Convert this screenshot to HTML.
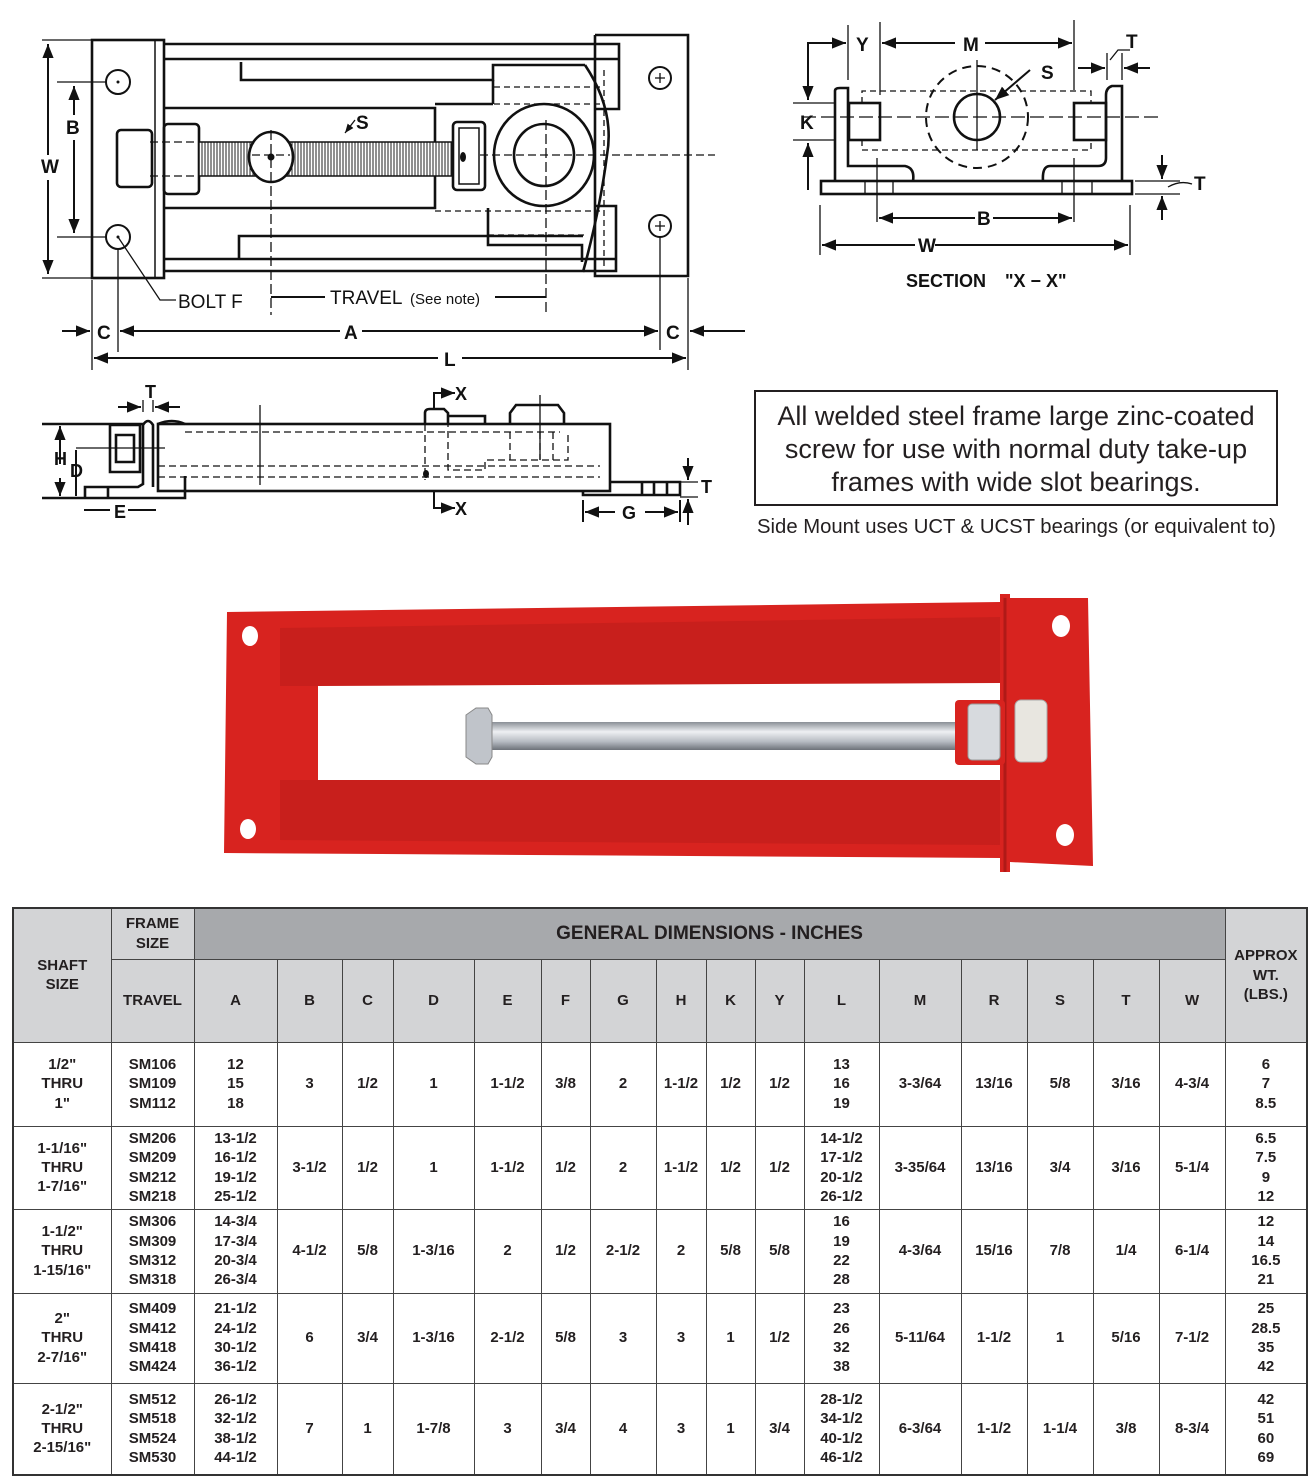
<!DOCTYPE html>
<html><head><meta charset="utf-8">
<style>
body{margin:0;background:#fff;width:1316px;height:1482px;position:relative;overflow:hidden;font-family:"Liberation Sans",Arial,sans-serif;}
svg{position:absolute;left:0;top:0}
.box{position:absolute;left:754px;top:390px;width:524px;height:116px;border:2.5px solid #231f20;font-size:27px;line-height:33px;text-align:center;color:#231f20;padding-top:8px;box-sizing:border-box;white-space:nowrap}
.sub{position:absolute;left:757px;top:516px;font-size:20.3px;color:#231f20;white-space:nowrap}
table{position:absolute;left:12px;top:907px;border-collapse:collapse;table-layout:fixed;width:1294px;border:2.5px solid #333;font-weight:bold;font-size:15px;color:#231f20}
td{border:1px solid #444;text-align:center;vertical-align:middle;padding:0;line-height:19.3px}
.h{background:#d3d4d6}
.g{background:#a7a9ac;font-size:19px}
</style></head><body>
<svg width="1316" height="880" viewBox="0 0 1316 880" font-family="Liberation Sans, Arial, sans-serif">
<defs>
<marker id="a" viewBox="0 0 10 10" refX="10" refY="5" markerWidth="7" markerHeight="7" orient="auto-start-reverse"><path d="M0,1 L10,5 L0,9z" fill="#111"/></marker>
<pattern id="th" width="3" height="10" patternUnits="userSpaceOnUse"><rect width="3" height="10" fill="#fff"/><line x1="1" y1="0" x2="1" y2="10" stroke="#222" stroke-width="1"/></pattern>
<linearGradient id="rod" x1="0" y1="0" x2="0" y2="1"><stop offset="0" stop-color="#8a8f96"/><stop offset=".35" stop-color="#eef0f3"/><stop offset=".7" stop-color="#b6bbc2"/><stop offset="1" stop-color="#6d7279"/></linearGradient>
</defs>
<g fill="none" stroke="#111" stroke-width="2.6">
<rect x="92" y="40" width="72" height="238"/>
<line x1="155" y1="40" x2="155" y2="278" stroke-width="1.5"/>
<polyline points="164,44 619,44 619,109 595,109"/>
<line x1="164" y1="59" x2="619" y2="59"/>
<polyline points="595,35 688,35 688,276 595,276 595,35"/>
<line x1="164" y1="259" x2="616" y2="259"/>
<polyline points="164,271 616,271 616,206 595,206"/>
<polyline points="241,62 241,80 493,80 493,65 585,65"/>
<path d="M585,65 Q615,110 607,155 Q600,210 583,272"/>
<polyline points="164,108 435,108 435,208 164,208"/>
<polyline points="435,104 493,104"/>
<line x1="493" y1="80" x2="493" y2="104"/>
<polyline points="239,259 239,236 583,236"/>
<polyline points="488,208 488,245 582,245 582,262"/>
<ellipse cx="544" cy="155" rx="50" ry="51"/>
<ellipse cx="544" cy="155" rx="30" ry="31"/>
<rect x="117" y="130" width="35" height="57" rx="4"/>
<rect x="164" y="124" width="35" height="70" rx="4"/>
<rect x="199" y="142" width="253" height="34" fill="url(#th)" stroke-width="1.5"/>
<ellipse cx="271" cy="157" rx="22" ry="25" fill="#fff"/>
<rect x="453" y="122" width="32" height="68" rx="4" fill="#fff"/>
<rect x="459" y="128" width="20" height="56" fill="#fff" stroke-width="1.5"/>
<circle cx="118" cy="82" r="12" stroke-width="2"/><circle cx="118" cy="237" r="12" stroke-width="2"/>
<circle cx="660" cy="78" r="11" stroke-width="2"/><circle cx="660" cy="226" r="11" stroke-width="2"/>
</g>
<g fill="#111"><circle cx="271" cy="157" r="3.5"/><ellipse cx="463" cy="157" rx="3" ry="5"/><circle cx="118" cy="82" r="1.5"/><circle cx="118" cy="237" r="1.5"/></g>
<g stroke="#111" stroke-width="1.3" fill="none">
<path d="M655,78h10M660,73v10M655,226h10M660,221v10"/>
<path d="M494,87H600M494,104H600M435,211H600M488,235H585" stroke-dasharray="6,4"/>
<path d="M150,142H200M150,176H200M480,155H715M252,155H290" stroke-dasharray="8,4"/>
<path d="M271,130V315M546,120V315" stroke-dasharray="10,4"/>
<path d="M604,70V270" stroke-dasharray="6,4"/>
<path d="M42,40H92M42,278H92M57,82H106M57,237H106"/>
<path d="M118,249V352M660,237V350M92,280V370M688,278V370"/>
<path d="M118,237L160,300H176"/>
<path d="M355,120L345,133" marker-end="url(#a)"/>
</g>
<g stroke="#111" stroke-width="2" fill="none">
<line x1="48" y1="44" x2="48" y2="155" marker-start="url(#a)"/><line x1="48" y1="180" x2="48" y2="274" marker-end="url(#a)"/>
<line x1="74" y1="86" x2="74" y2="115" marker-start="url(#a)"/><line x1="74" y1="140" x2="74" y2="233" marker-end="url(#a)"/>
<line x1="271" y1="297" x2="325" y2="297"/><line x1="495" y1="297" x2="546" y2="297"/>
<line x1="62" y1="331" x2="90" y2="331" marker-end="url(#a)"/><line x1="120" y1="331" x2="340" y2="331" marker-start="url(#a)"/><line x1="362" y1="331" x2="658" y2="331" marker-end="url(#a)"/><line x1="745" y1="331" x2="690" y2="331" marker-end="url(#a)"/>
<line x1="94" y1="358" x2="438" y2="358" marker-start="url(#a)"/><line x1="462" y1="358" x2="686" y2="358" marker-end="url(#a)"/>
</g>
<g font-size="19" fill="#111" font-weight="bold">
<text x="41" y="173">W</text><text x="66" y="134">B</text><text x="356" y="129">S</text>
<text x="178" y="308" font-weight="normal" font-size="19">BOLT F</text>
<text x="330" y="304" font-weight="normal">TRAVEL</text><text x="410" y="304" font-size="15" font-weight="normal">(See note)</text>
<text x="97" y="339">C</text><text x="344" y="339">A</text><text x="666" y="339">C</text><text x="444" y="366">L</text>
</g>
<g fill="none" stroke="#111" stroke-width="2.6">
<rect x="821" y="181" width="311" height="13"/>
<path d="M835,181V91Q835,88 840,88H848V166H905Q915,168 913,181"/>
<path d="M1122,181V86H1112Q1106,88 1106,95V158Q1106,166 1098,166H1050Q1042,166 1043,181"/>
<rect x="849" y="103" width="31" height="37"/><rect x="1074" y="103" width="32" height="37"/>
<circle cx="977" cy="117" r="23"/>
<circle cx="977" cy="117" r="51" stroke-dasharray="9,6" stroke-width="2"/>
</g>
<g stroke="#111" stroke-width="1.3" fill="none">
<path d="M862,103V91H1091V103M862,140V150H1091V140" stroke-dasharray="6,4"/>
<path d="M802,117H1160" stroke-dasharray="14,5"/>
<path d="M977,60V150"/>
<path d="M865,181V194M893,181V194M1062,181V194M1092,181V194"/>
<path d="M848,25V80M880,22V95M1074,20V90M1107,53V80M1122,53V80M793,103H835M793,140H835M1135,181H1180M1135,194H1180M877,158V222M1074,158V222M820,205V255M1130,205V255"/>
<path d="M1110,60L1118,50H1130M1168,187Q1180,180 1192,184"/>
</g>
<g stroke="#111" stroke-width="2" fill="none">
<polyline points="808,100 808,43 846,43" marker-start="url(#a)" marker-end="url(#a)"/>
<line x1="808" y1="190" x2="808" y2="143" marker-end="url(#a)"/>
<line x1="882" y1="43" x2="955" y2="43" marker-start="url(#a)"/><line x1="985" y1="43" x2="1072" y2="43" marker-end="url(#a)"/>
<line x1="1078" y1="68" x2="1105" y2="68" marker-end="url(#a)"/><line x1="1150" y1="68" x2="1124" y2="68" marker-end="url(#a)"/>
<line x1="1162" y1="155" x2="1162" y2="179" marker-end="url(#a)"/><line x1="1162" y1="220" x2="1162" y2="196" marker-end="url(#a)"/>
<line x1="879" y1="218" x2="975" y2="218" marker-start="url(#a)"/><line x1="993" y1="218" x2="1072" y2="218" marker-end="url(#a)"/>
<line x1="822" y1="245" x2="915" y2="245" marker-start="url(#a)"/><line x1="935" y1="245" x2="1128" y2="245" marker-end="url(#a)"/>
<line x1="1030" y1="70" x2="995" y2="100" marker-end="url(#a)"/>
</g>
<g font-size="19" fill="#111" font-weight="bold">
<text x="856" y="51">Y</text><text x="963" y="51">M</text><text x="1126" y="48">T</text><text x="1041" y="79">S</text><text x="800" y="129">K</text><text x="1194" y="190">T</text><text x="977" y="225">B</text><text x="918" y="252">W</text>
<text x="906" y="287" font-size="18">SECTION</text><text x="1005" y="287" font-size="18">"X − X"</text>
</g>
<g fill="none" stroke="#111" stroke-width="2.6">
<rect x="158" y="424" width="452" height="67"/>
<path d="M153,487V425Q148,417 143,425V484L138,487H85V498M108,487V498"/>
<path d="M158,424Q172,418 185,424"/>
<path d="M185,476V498H42"/>
<path d="M42,424H143"/>
<path d="M110,425H140V472H110Z M116,435H134V462H116Z"/>
<path d="M425,424V413Q425,409 430,409H444L448,413V424M448,416H485V424"/>
<path d="M510,424V413L516,405H558L564,413V424"/>
<path d="M583,491V495H680V482H610M642,482V495M654,482V495M667,482V495"/>
</g>
<g stroke="#111" stroke-width="1.3" fill="none">
<path d="M185,432H560M158,466H600M158,477H600M425,424V480M448,420V470H485V460H568V432M510,432V460M540,432V460M553,432V460" stroke-dasharray="7,4"/>
<path d="M260,405V485M540,395V460"/>
<path d="M76,448H165M143,400V412M153,400V412"/>
<path d="M680,482H698M680,497H698"/>
</g>
<ellipse cx="426" cy="474" rx="3" ry="4" fill="#111"/>
<g stroke="#111" stroke-width="2" fill="none">
<line x1="60" y1="464" x2="60" y2="426" marker-end="url(#a)"/><line x1="60" y1="478" x2="60" y2="496" marker-end="url(#a)"/>
<line x1="76" y1="450" x2="76" y2="496"/>
<line x1="118" y1="407" x2="141" y2="407" marker-end="url(#a)"/><line x1="180" y1="407" x2="155" y2="407" marker-end="url(#a)"/>
<line x1="84" y1="510" x2="110" y2="510"/><line x1="128" y1="510" x2="156" y2="510"/>
<polyline points="434,409 434,393 455,393" marker-end="url(#a)"/><polyline points="434,491 434,508 455,508" marker-end="url(#a)"/>
<line x1="583" y1="500" x2="583" y2="522"/><line x1="680" y1="500" x2="680" y2="522"/>
<line x1="615" y1="512" x2="585" y2="512" marker-end="url(#a)"/><line x1="645" y1="512" x2="678" y2="512" marker-end="url(#a)"/>
<line x1="688" y1="458" x2="688" y2="480" marker-end="url(#a)"/><line x1="688" y1="525" x2="688" y2="499" marker-end="url(#a)"/>
</g>
<g font-size="18" fill="#111" font-weight="bold">
<text x="54" y="465">H</text><text x="70" y="477">D</text><text x="145" y="398">T</text><text x="114" y="518">E</text><text x="455" y="400">X</text><text x="455" y="515">X</text><text x="622" y="519">G</text><text x="701" y="493">T</text>
</g>
<polygon points="227,612 1000,602 1000,594 1010,594 1010,598 1088,598 1093,866 1010,862 1010,872 1000,872 1000,858 224,853" fill="#d8231f"/>
<polygon points="280,628 1000,617 1000,683 318,686 280,686" fill="#c81f1c"/>
<polygon points="280,780 1000,780 1000,845 280,840" fill="#c81f1c"/>
<polygon points="318,686 1000,683 1000,780 318,780" fill="#fff"/>
<line x1="1005" y1="598" x2="1005" y2="872" stroke="#b01a17" stroke-width="3"/>
<rect x="472" y="722" width="500" height="28" fill="url(#rod)"/>
<path d="M466,715L476,708H488L492,715V757L488,764H476L466,757Z" fill="#c0c4ca" stroke="#888"/>
<rect x="955" y="700" width="50" height="65" rx="4" fill="#d8231f"/>
<rect x="968" y="704" width="32" height="56" rx="4" fill="#d7dade" stroke="#999"/>
<rect x="1015" y="700" width="32" height="62" rx="6" fill="#e8e6e0" stroke="#aaa"/>
<g fill="#fff"><ellipse cx="250" cy="636" rx="8" ry="10"/><ellipse cx="248" cy="829" rx="8" ry="10"/><ellipse cx="1061" cy="626" rx="9" ry="11"/><ellipse cx="1065" cy="835" rx="9" ry="11"/></g>
</svg>
<div class="box">All welded steel frame large zinc-coated<br>screw for use with normal duty take-up<br>frames with wide slot bearings.</div>
<div class="sub">Side Mount uses UCT &amp; UCST bearings (or equivalent to)</div>
<table>
<colgroup><col style="width:98px"><col style="width:83px"><col style="width:83px"><col style="width:65px"><col style="width:51px"><col style="width:81px"><col style="width:67px"><col style="width:49px"><col style="width:66px"><col style="width:50px"><col style="width:49px"><col style="width:49px"><col style="width:75px"><col style="width:82px"><col style="width:66px"><col style="width:66px"><col style="width:66px"><col style="width:66px"><col style="width:82px"></colgroup>
<tr style="height:51px"><td class="h" rowspan="2">SHAFT<br>SIZE</td><td class="h">FRAME<br>SIZE</td><td class="g" colspan="16">GENERAL DIMENSIONS - INCHES</td><td class="h" rowspan="2">APPROX<br>WT.<br>(LBS.)</td></tr>
<tr style="height:83px" class="h"><td class="h">TRAVEL</td><td class="h">A</td><td class="h">B</td><td class="h">C</td><td class="h">D</td><td class="h">E</td><td class="h">F</td><td class="h">G</td><td class="h">H</td><td class="h">K</td><td class="h">Y</td><td class="h">L</td><td class="h">M</td><td class="h">R</td><td class="h">S</td><td class="h">T</td><td class="h">W</td></tr>
<tr style="height:84px"><td>1/2"<br>THRU<br>1"</td><td>SM106<br>SM109<br>SM112</td><td>12<br>15<br>18</td><td>3</td><td>1/2</td><td>1</td><td>1-1/2</td><td>3/8</td><td>2</td><td>1-1/2</td><td>1/2</td><td>1/2</td><td>13<br>16<br>19</td><td>3-3/64</td><td>13/16</td><td>5/8</td><td>3/16</td><td>4-3/4</td><td>6<br>7<br>8.5</td></tr>
<tr style="height:83px"><td>1-1/16"<br>THRU<br>1-7/16"</td><td>SM206<br>SM209<br>SM212<br>SM218</td><td>13-1/2<br>16-1/2<br>19-1/2<br>25-1/2</td><td>3-1/2</td><td>1/2</td><td>1</td><td>1-1/2</td><td>1/2</td><td>2</td><td>1-1/2</td><td>1/2</td><td>1/2</td><td>14-1/2<br>17-1/2<br>20-1/2<br>26-1/2</td><td>3-35/64</td><td>13/16</td><td>3/4</td><td>3/16</td><td>5-1/4</td><td>6.5<br>7.5<br>9<br>12</td></tr>
<tr style="height:84px"><td>1-1/2"<br>THRU<br>1-15/16"</td><td>SM306<br>SM309<br>SM312<br>SM318</td><td>14-3/4<br>17-3/4<br>20-3/4<br>26-3/4</td><td>4-1/2</td><td>5/8</td><td>1-3/16</td><td>2</td><td>1/2</td><td>2-1/2</td><td>2</td><td>5/8</td><td>5/8</td><td>16<br>19<br>22<br>28</td><td>4-3/64</td><td>15/16</td><td>7/8</td><td>1/4</td><td>6-1/4</td><td>12<br>14<br>16.5<br>21</td></tr>
<tr style="height:90px"><td>2"<br>THRU<br>2-7/16"</td><td>SM409<br>SM412<br>SM418<br>SM424</td><td>21-1/2<br>24-1/2<br>30-1/2<br>36-1/2</td><td>6</td><td>3/4</td><td>1-3/16</td><td>2-1/2</td><td>5/8</td><td>3</td><td>3</td><td>1</td><td>1/2</td><td>23<br>26<br>32<br>38</td><td>5-11/64</td><td>1-1/2</td><td>1</td><td>5/16</td><td>7-1/2</td><td>25<br>28.5<br>35<br>42</td></tr>
<tr style="height:92px"><td>2-1/2"<br>THRU<br>2-15/16"</td><td>SM512<br>SM518<br>SM524<br>SM530</td><td>26-1/2<br>32-1/2<br>38-1/2<br>44-1/2</td><td>7</td><td>1</td><td>1-7/8</td><td>3</td><td>3/4</td><td>4</td><td>3</td><td>1</td><td>3/4</td><td>28-1/2<br>34-1/2<br>40-1/2<br>46-1/2</td><td>6-3/64</td><td>1-1/2</td><td>1-1/4</td><td>3/8</td><td>8-3/4</td><td>42<br>51<br>60<br>69</td></tr>
</table>
</body></html>
